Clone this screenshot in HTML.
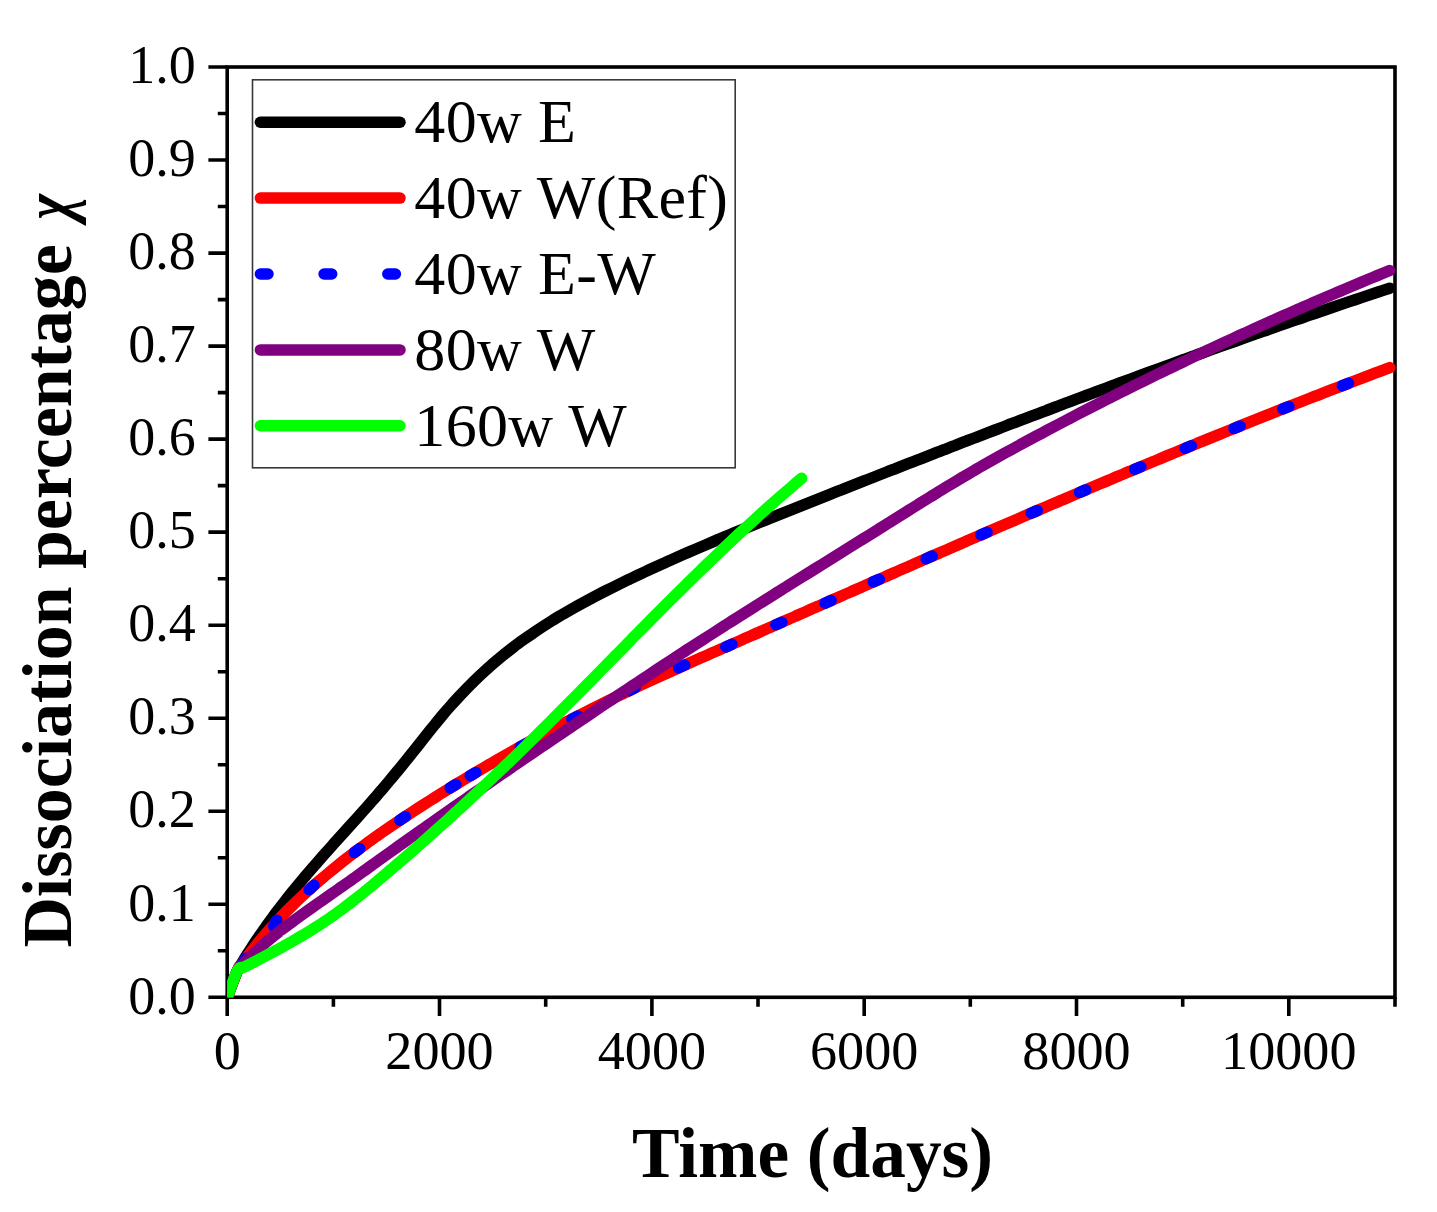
<!DOCTYPE html>
<html><head><meta charset="utf-8"><title>Dissociation percentage</title>
<style>
html,body{margin:0;padding:0;background:#fff;}
body{width:1437px;height:1212px;overflow:hidden;}
svg{display:block;}
text{font-family:"Liberation Serif",serif;fill:#000;}
.tk{font-size:54.2px;}
.lg{font-size:62px;letter-spacing:0.35px;}
.ax{font-size:71.3px;font-weight:bold;}
</style></head><body>
<svg width="1437" height="1212" viewBox="0 0 1437 1212">
<rect x="0" y="0" width="1437" height="1212" fill="#fff"/>
<defs><clipPath id="cp"><rect x="227.1" y="67" width="1187.9" height="930.6"/></clipPath></defs>
<g stroke="#000" stroke-width="3.6" fill="none" stroke-linecap="butt">
<rect x="227.2" y="67" width="1167.8" height="930.3"/>
<path d="M227.2 997.3 H208.4M227.2 950.8 H217.8M227.2 904.3 H208.4M227.2 857.8 H217.8M227.2 811.2 H208.4M227.2 764.7 H217.8M227.2 718.2 H208.4M227.2 671.7 H217.8M227.2 625.2 H208.4M227.2 578.7 H217.8M227.2 532.1 H208.4M227.2 485.6 H217.8M227.2 439.1 H208.4M227.2 392.6 H217.8M227.2 346.1 H208.4M227.2 299.6 H217.8M227.2 253.1 H208.4M227.2 206.5 H217.8M227.2 160 H208.4M227.2 113.5 H217.8M227.2 67 H208.4M227.2 997.3 V1016.1M333.4 997.3 V1006.7M439.5 997.3 V1016.1M545.7 997.3 V1006.7M651.9 997.3 V1016.1M758 997.3 V1006.7M864.2 997.3 V1016.1M970.3 997.3 V1006.7M1076.5 997.3 V1016.1M1182.7 997.3 V1006.7M1288.8 997.3 V1016.1M1395 997.3 V1006.7"/>
</g>
<g clip-path="url(#cp)" fill="none" stroke-linecap="round" stroke-linejoin="round" stroke-width="11.5">
<path d="M227.2 997.3C228.9 992.8 235.2 975.8 237.5 970.4C239.8 965 239.9 966.4 240.9 964.6C242 962.9 243.2 960.9 243.8 959.9C244.4 959 243.7 960.1 244.4 958.9C245.1 957.8 247 954.8 248 953.3C248.9 951.7 249.7 950.6 250.3 949.6C250.9 948.7 250.7 948.9 251.6 947.7C252.4 946.4 254.3 943.5 255.2 942.1C256.1 940.7 256.4 940.4 257 939.5C257.6 938.6 258 938 259 936.6C259.9 935.2 261.9 932.3 262.8 931.1C263.6 929.9 263.3 930.4 263.9 929.5C264.6 928.6 265.5 927.2 266.6 925.7C267.7 924.2 269.8 921.3 270.5 920.3C271.2 919.3 269.7 921.3 271 919.6C272.3 917.9 275.8 913.1 278.3 909.9C280.7 906.6 283.2 903.4 285.7 900.3C288.2 897.1 290.7 893.9 293.3 890.8C295.8 887.6 298.4 884.5 301 881.4C303.6 878.3 306.2 875.2 308.8 872.1C311.5 869 314.1 866 316.8 862.9C319.5 859.9 322.2 856.8 324.8 853.8C327.5 850.8 330.2 847.8 332.9 844.7C335.7 841.7 338.4 838.7 341.1 835.7C343.8 832.7 346.5 829.6 349.2 826.6C351.9 823.6 354.7 820.6 357.4 817.6C360.1 814.6 362.8 811.5 365.5 808.5C368.2 805.5 370.8 802.4 373.5 799.4C376.2 796.3 378.8 793.2 381.5 790.2C384.1 787.1 386.7 784 389.3 780.9C391.9 777.8 394.5 774.7 397.1 771.5C399.7 768.4 402.3 765.3 404.8 762.1C407.4 759 409.9 755.8 412.4 752.6C415 749.5 417.5 746.3 420 743.1C422.5 739.9 425 736.7 427.5 733.6C430.1 730.4 432.6 727.2 435.2 724.1C437.7 720.9 440.3 717.8 442.9 714.7C445.5 711.6 448.2 708.5 450.9 705.5C453.6 702.5 456.3 699.5 459.1 696.5C461.9 693.5 464.7 690.6 467.5 687.7C470.4 684.8 473.3 681.9 476.2 679.1C479.1 676.3 482.1 673.5 485.1 670.8C488.1 668.1 491.1 665.4 494.2 662.7C497.3 660.1 500.4 657.5 503.5 654.9C506.7 652.4 509.9 649.9 513.1 647.4C516.3 645 519.5 642.6 522.8 640.2C526.1 637.8 529.4 635.5 532.8 633.3C536.1 631 539.5 628.7 542.9 626.5C546.3 624.3 549.7 622.2 553.1 620C556.6 617.9 560.1 615.8 563.6 613.8C567 611.7 570.6 609.7 574.1 607.7C577.6 605.7 581.2 603.7 584.8 601.8C588.3 599.9 591.9 598 595.5 596.1C599.1 594.2 602.8 592.3 606.4 590.5C610 588.7 613.7 586.9 617.3 585.1C621 583.3 624.6 581.5 628.3 579.7C632 578 635.6 576.2 639.3 574.5C643 572.8 646.7 571 650.4 569.3C654.1 567.6 657.8 566 661.5 564.3C665.2 562.6 668.9 560.9 672.6 559.3C676.3 557.6 680 556 683.7 554.3C687.4 552.7 691.2 551.1 694.9 549.5C698.6 547.9 702.3 546.3 706.1 544.7C709.8 543.1 713.5 541.5 717.3 539.9C721 538.4 724.7 536.8 728.5 535.2C732.2 533.7 736 532.1 739.7 530.6C743.5 529 747.2 527.5 751 525.9C754.7 524.4 758.5 522.9 762.2 521.4C766 519.8 769.8 518.3 773.5 516.8C777.3 515.3 781.1 513.8 784.8 512.3C788.6 510.8 792.3 509.3 796.1 507.8C799.9 506.3 803.6 504.8 807.4 503.3C811.2 501.8 815 500.3 818.7 498.8C822.5 497.3 826.3 495.8 830 494.3C833.8 492.8 837.6 491.3 841.4 489.9C845.1 488.4 848.9 486.9 852.7 485.4C856.4 483.9 860.2 482.4 864 480.9C867.8 479.5 871.5 478 875.3 476.5C879.1 475 882.9 473.5 886.7 472C890.4 470.6 894.2 469.1 898 467.6C901.8 466.1 905.5 464.7 909.3 463.2C913.1 461.7 916.9 460.2 920.7 458.8C924.4 457.3 928.2 455.8 932 454.3C935.8 452.9 939.6 451.4 943.4 449.9C947.1 448.5 950.9 447 954.7 445.6C958.5 444.1 962.3 442.6 966.1 441.2C969.9 439.7 973.6 438.2 977.4 436.8C981.2 435.3 985 433.9 988.8 432.4C992.6 431 996.4 429.5 1000.2 428.1C1004 426.6 1007.8 425.2 1011.5 423.7C1015.3 422.3 1019.1 420.8 1022.9 419.4C1026.7 417.9 1030.5 416.5 1034.3 415.1C1038.1 413.6 1041.9 412.2 1045.7 410.8C1049.5 409.3 1053.3 407.9 1057.1 406.5C1060.9 405 1064.7 403.6 1068.5 402.2C1072.3 400.7 1076.1 399.3 1079.9 397.9C1083.7 396.5 1087.5 395 1091.3 393.6C1095.1 392.2 1098.9 390.8 1102.7 389.4C1106.5 388 1110.3 386.6 1114.1 385.1C1117.9 383.7 1121.7 382.3 1125.5 380.9C1129.3 379.5 1133.2 378.1 1137 376.7C1140.8 375.3 1144.6 373.9 1148.4 372.5C1152.2 371.1 1156 369.7 1159.8 368.3C1163.6 366.9 1167.5 365.5 1171.3 364.2C1175.1 362.8 1178.9 361.4 1182.7 360C1186.5 358.6 1190.4 357.3 1194.2 355.9C1198 354.5 1201.8 353.1 1205.6 351.8C1209.4 350.4 1213.3 349 1217.1 347.6C1220.9 346.3 1224.7 344.9 1228.6 343.6C1232.4 342.2 1236.2 340.8 1240 339.5C1243.9 338.1 1247.7 336.8 1251.5 335.4C1255.3 334.1 1259.2 332.7 1263 331.4C1266.8 330.1 1270.6 328.7 1274.5 327.4C1278.3 326 1282.1 324.7 1286 323.4C1289.8 322 1293.6 320.7 1297.5 319.4C1301.3 318.1 1305.1 316.7 1309 315.4C1312.8 314.1 1316.7 312.8 1320.5 311.5C1324.3 310.2 1328.2 308.8 1332 307.5C1335.9 306.2 1339.7 304.9 1343.5 303.6C1347.4 302.3 1351.2 301 1355.1 299.7C1358.9 298.5 1362.8 297.2 1366.6 295.9C1370.5 294.6 1374.3 293.3 1378.1 292C1382 290.7 1387.8 288.8 1389.7 288.2" stroke="#000"/>
<path d="M227.2 997.3C228.9 992.8 235.1 975.8 237.5 970.4C239.9 965 240.2 966.5 241.4 964.9C242.5 963.2 243.9 961.3 244.6 960.4C245.3 959.5 244.5 960.5 245.3 959.4C246.1 958.4 248.2 955.5 249.3 954C250.4 952.6 251.3 951.5 252 950.6C252.7 949.7 252.5 949.9 253.4 948.8C254.4 947.6 256.6 944.8 257.6 943.5C258.6 942.3 258.9 942 259.6 941.1C260.3 940.3 260.8 939.7 261.8 938.4C262.9 937.1 265.2 934.4 266.2 933.3C267.1 932.2 266.7 932.7 267.5 931.9C268.2 931 269.3 929.7 270.6 928.3C271.8 926.9 274.2 924.3 275 923.4C275.9 922.5 274.1 924.4 275.6 922.8C277 921.3 281.1 916.9 283.9 914C286.7 911.1 289.5 908.3 292.4 905.5C295.3 902.6 298.2 899.8 301.1 897.1C304.1 894.3 307 891.6 310 888.9C313 886.2 316.1 883.5 319.1 880.9C322.2 878.3 325.2 875.7 328.4 873.1C331.5 870.5 334.6 867.9 337.7 865.4C340.9 862.9 344.1 860.4 347.3 857.9C350.5 855.4 353.7 853 356.9 850.6C360.2 848.1 363.4 845.7 366.7 843.3C370 841 373.3 838.6 376.6 836.2C379.9 833.9 383.2 831.6 386.6 829.3C389.9 827 393.3 824.7 396.6 822.4C400 820.1 403.4 817.9 406.8 815.6C410.2 813.4 413.6 811.1 417 808.9C420.4 806.7 423.8 804.5 427.2 802.3C430.6 800.1 434.1 798 437.5 795.8C440.9 793.6 444.4 791.5 447.9 789.4C451.3 787.2 454.8 785.1 458.2 783C461.7 780.9 465.2 778.8 468.7 776.7C472.2 774.6 475.6 772.5 479.1 770.5C482.6 768.4 486.1 766.4 489.6 764.3C493.1 762.3 496.7 760.3 500.2 758.2C503.7 756.2 507.2 754.2 510.7 752.2C514.3 750.2 517.8 748.2 521.3 746.3C524.9 744.3 528.4 742.3 532 740.4C535.5 738.5 539.1 736.5 542.6 734.6C546.2 732.7 549.8 730.8 553.4 728.9C556.9 727 560.5 725.1 564.1 723.2C567.7 721.3 571.3 719.4 574.9 717.6C578.5 715.7 582.1 713.9 585.7 712C589.3 710.2 592.9 708.4 596.5 706.6C600.1 704.8 603.8 703 607.4 701.2C611 699.4 614.7 697.6 618.3 695.9C621.9 694.1 625.6 692.4 629.2 690.6C632.9 688.9 636.6 687.1 640.2 685.4C643.9 683.7 647.6 682 651.2 680.3C654.9 678.6 658.6 676.9 662.3 675.2C666 673.6 669.6 671.9 673.3 670.2C677 668.6 680.7 666.9 684.4 665.2C688.1 663.6 691.8 661.9 695.5 660.3C699.2 658.7 702.9 657 706.6 655.4C710.3 653.7 714 652.1 717.7 650.5C721.4 648.8 725.2 647.2 728.9 645.6C732.6 643.9 736.3 642.3 740 640.7C743.7 639 747.4 637.4 751.1 635.8C754.8 634.1 758.5 632.5 762.2 630.9C765.9 629.2 769.6 627.6 773.3 626C777.1 624.3 780.8 622.7 784.5 621C788.2 619.4 791.9 617.8 795.6 616.1C799.3 614.5 803 612.9 806.7 611.2C810.4 609.6 814.1 608 817.8 606.3C821.5 604.7 825.3 603.1 829 601.4C832.7 599.8 836.4 598.2 840.1 596.5C843.8 594.9 847.5 593.3 851.2 591.6C854.9 590 858.6 588.4 862.3 586.7C866.1 585.1 869.8 583.5 873.5 581.8C877.2 580.2 880.9 578.6 884.6 577C888.3 575.3 892 573.7 895.7 572.1C899.4 570.4 903.2 568.8 906.9 567.2C910.6 565.6 914.3 563.9 918 562.3C921.7 560.7 925.4 559.1 929.1 557.4C932.9 555.8 936.6 554.2 940.3 552.6C944 551 947.7 549.3 951.4 547.7C955.2 546.1 958.9 544.5 962.6 542.9C966.3 541.2 970 539.6 973.7 538C977.5 536.4 981.2 534.8 984.9 533.2C988.6 531.6 992.3 530 996 528.3C999.8 526.7 1003.5 525.1 1007.2 523.5C1010.9 521.9 1014.6 520.3 1018.4 518.7C1022.1 517.1 1025.8 515.5 1029.5 513.9C1033.3 512.3 1037 510.7 1040.7 509.1C1044.4 507.5 1048.2 505.9 1051.9 504.3C1055.6 502.7 1059.3 501.1 1063.1 499.6C1066.8 498 1070.5 496.4 1074.3 494.8C1078 493.2 1081.7 491.6 1085.4 490C1089.2 488.5 1092.9 486.9 1096.6 485.3C1100.4 483.7 1104.1 482.2 1107.8 480.6C1111.6 479 1115.3 477.4 1119 475.9C1122.8 474.3 1126.5 472.7 1130.2 471.2C1134 469.6 1137.7 468 1141.5 466.5C1145.2 464.9 1148.9 463.4 1152.7 461.8C1156.4 460.2 1160.2 458.7 1163.9 457.1C1167.7 455.6 1171.4 454 1175.1 452.5C1178.9 450.9 1182.6 449.4 1186.4 447.9C1190.1 446.3 1193.9 444.8 1197.6 443.2C1201.4 441.7 1205.1 440.2 1208.9 438.6C1212.6 437.1 1216.4 435.6 1220.1 434.1C1223.9 432.5 1227.6 431 1231.4 429.5C1235.2 428 1238.9 426.5 1242.7 424.9C1246.4 423.4 1250.2 421.9 1253.9 420.4C1257.7 418.9 1261.5 417.4 1265.2 415.9C1269 414.4 1272.8 412.9 1276.5 411.4C1280.3 409.9 1284.1 408.4 1287.8 406.9C1291.6 405.4 1295.4 404 1299.1 402.5C1302.9 401 1306.7 399.5 1310.5 398C1314.2 396.6 1318 395.1 1321.8 393.6C1325.6 392.2 1329.3 390.7 1333.1 389.2C1336.9 387.8 1340.7 386.3 1344.4 384.9C1348.2 383.4 1352 382 1355.8 380.5C1359.6 379.1 1363.4 377.6 1367.2 376.2C1370.9 374.7 1374.7 373.3 1378.5 371.9C1382.3 370.4 1388 368.3 1389.9 367.6" stroke="#f00"/>
<path d="M242.3 963.6 L246.2 958.2M273.8 926.1 L276.7 920.2M309.1 889.7 L314 885.3M354.3 852.5 L359.6 848.6M399.8 820.3 L405.3 816.6M450.2 787.9 L455.9 784.4M470.2 775.8 L475.9 772.4M520.2 746.9 L526 743.7M571.9 719.1 L577.8 716.1M629 690.7 L635 687.9M678.6 667.8 L684.7 665.1M725.8 646.9 L731.9 644.2M775.9 624.8 L781.9 622.2M825 603.2 L831.1 600.5M873.2 581.9 L879.3 579.3M926.1 558.8 L932.2 556.1M980.9 534.9 L987 532.3M1031.2 513.2 L1037.2 510.6M1079.6 492.5 L1085.7 489.9M1134.7 469.3 L1140.8 466.8M1185.2 448.3 L1191.3 445.8M1234 428.5 L1240.1 426M1282.9 408.9 L1289 406.5M1342.3 385.7 L1348.5 383.3" stroke="#00f"/>
<path d="M227.2 997.3C228.9 992.8 235 975.7 237.5 970.4C240 965.1 240.6 966.9 242 965.4C243.3 963.9 245 962.1 245.8 961.3C246.5 960.5 245.6 961.4 246.6 960.5C247.5 959.6 250 957.1 251.3 955.8C252.6 954.5 253.6 953.5 254.4 952.7C255.2 952 255 952.2 256.1 951.2C257.2 950.2 259.8 947.8 261 946.7C262.2 945.6 262.6 945.3 263.4 944.6C264.3 943.9 264.7 943.4 266 942.3C267.3 941.3 270 939 271.1 938.1C272.2 937.2 271.9 937.5 272.7 936.8C273.6 936.1 274.8 935.1 276.3 933.9C277.7 932.8 280.5 930.6 281.5 929.8C282.5 929 280.5 930.6 282.3 929.2C284 927.9 288.7 924.4 292 922C295.3 919.5 298.5 917.2 301.8 914.8C305.1 912.5 308.5 910.1 311.8 907.8C315.1 905.4 318.4 903.1 321.8 900.8C325.1 898.5 328.4 896.1 331.7 893.8C335.1 891.5 338.4 889.1 341.7 886.8C345 884.4 348.3 882.1 351.7 879.7C355 877.4 358.3 875 361.6 872.6C364.9 870.3 368.2 867.9 371.5 865.5C374.8 863.2 378.1 860.8 381.4 858.4C384.7 856.1 388 853.7 391.3 851.4C394.6 849 397.9 846.6 401.2 844.3C404.5 841.9 407.8 839.6 411.1 837.2C414.5 834.9 417.8 832.6 421.1 830.2C424.4 827.9 427.7 825.5 431.1 823.2C434.4 820.9 437.7 818.5 441 816.2C444.4 813.9 447.7 811.6 451 809.2C454.4 806.9 457.7 804.6 461 802.3C464.4 800 467.7 797.6 471 795.3C474.4 793 477.7 790.7 481.1 788.4C484.4 786.1 487.8 783.8 491.1 781.5C494.4 779.2 497.8 776.9 501.1 774.6C504.5 772.3 507.8 770 511.2 767.7C514.5 765.4 517.9 763.1 521.3 760.8C524.6 758.5 528 756.2 531.3 753.9C534.7 751.6 538 749.4 541.4 747.1C544.8 744.8 548.1 742.5 551.5 740.2C554.8 737.9 558.2 735.7 561.6 733.4C564.9 731.1 568.3 728.8 571.7 726.6C575 724.3 578.4 722 581.8 719.7C585.2 717.5 588.5 715.2 591.9 712.9C595.3 710.7 598.6 708.4 602 706.1C605.4 703.9 608.8 701.6 612.1 699.4C615.5 697.1 618.9 694.8 622.3 692.6C625.7 690.3 629 688.1 632.4 685.8C635.8 683.6 639.2 681.3 642.6 679.1C646 676.9 649.4 674.6 652.8 672.4C656.2 670.1 659.5 667.9 662.9 665.7C666.3 663.5 669.7 661.2 673.1 659C676.5 656.8 679.9 654.6 683.3 652.3C686.8 650.1 690.2 647.9 693.6 645.7C697 643.5 700.4 641.3 703.8 639.1C707.2 636.9 710.6 634.7 714.1 632.5C717.5 630.3 720.9 628.1 724.3 625.9C727.7 623.7 731.2 621.6 734.6 619.4C738 617.2 741.5 615 744.9 612.8C748.3 610.7 751.8 608.5 755.2 606.3C758.6 604.2 762.1 602 765.5 599.8C768.9 597.7 772.4 595.5 775.8 593.3C779.3 591.2 782.7 589 786.2 586.9C789.6 584.7 793 582.6 796.5 580.4C799.9 578.3 803.4 576.1 806.8 574C810.3 571.8 813.7 569.7 817.2 567.5C820.6 565.4 824.1 563.2 827.5 561.1C831 558.9 834.4 556.8 837.9 554.6C841.3 552.5 844.8 550.3 848.2 548.2C851.7 546 855.1 543.9 858.6 541.7C862 539.6 865.5 537.4 868.9 535.3C872.4 533.1 875.8 531 879.2 528.8C882.7 526.7 886.1 524.5 889.6 522.4C893 520.2 896.5 518 899.9 515.9C903.4 513.7 906.8 511.6 910.2 509.4C913.7 507.3 917.1 505.1 920.6 502.9C924 500.8 927.5 498.7 930.9 496.5C934.4 494.4 937.8 492.2 941.3 490.1C944.8 488 948.2 485.9 951.7 483.8C955.2 481.7 958.7 479.6 962.2 477.5C965.7 475.5 969.2 473.4 972.7 471.4C976.2 469.3 979.7 467.3 983.2 465.3C986.8 463.3 990.3 461.3 993.8 459.3C997.4 457.3 1000.9 455.3 1004.5 453.3C1008 451.4 1011.6 449.4 1015.2 447.5C1018.7 445.5 1022.3 443.6 1025.9 441.7C1029.5 439.7 1033 437.8 1036.6 435.9C1040.2 434 1043.8 432.1 1047.4 430.2C1051 428.3 1054.6 426.4 1058.2 424.5C1061.8 422.6 1065.4 420.7 1069 418.8C1072.6 416.9 1076.2 415.1 1079.8 413.2C1083.4 411.3 1087 409.5 1090.6 407.6C1094.2 405.8 1097.9 403.9 1101.5 402.1C1105.1 400.2 1108.7 398.4 1112.4 396.6C1116 394.8 1119.6 392.9 1123.3 391.1C1126.9 389.3 1130.5 387.5 1134.2 385.7C1137.8 383.9 1141.4 382.1 1145.1 380.3C1148.7 378.5 1152.4 376.7 1156 374.9C1159.7 373.2 1163.4 371.4 1167 369.6C1170.7 367.8 1174.3 366.1 1178 364.3C1181.7 362.6 1185.3 360.8 1189 359.1C1192.7 357.3 1196.3 355.6 1200 353.9C1203.7 352.1 1207.4 350.4 1211.1 348.7C1214.7 347 1218.4 345.2 1222.1 343.5C1225.8 341.8 1229.5 340.1 1233.2 338.4C1236.9 336.7 1240.6 335 1244.3 333.4C1248 331.7 1251.7 330 1255.4 328.3C1259.1 326.6 1262.8 325 1266.5 323.3C1270.2 321.6 1273.9 320 1277.6 318.3C1281.3 316.7 1285 315 1288.7 313.4C1292.5 311.8 1296.2 310.1 1299.9 308.5C1303.6 306.9 1307.4 305.3 1311.1 303.6C1314.8 302 1318.5 300.4 1322.3 298.8C1326 297.2 1329.7 295.6 1333.5 294C1337.2 292.4 1341 290.8 1344.7 289.2C1348.4 287.7 1352.2 286.1 1355.9 284.5C1359.7 282.9 1363.4 281.4 1367.2 279.8C1370.9 278.2 1374.7 276.7 1378.4 275.1C1382.2 273.6 1387.8 271.3 1389.7 270.5" stroke="#800080"/>
<path d="M227.2 997.3C228.9 992.8 234.8 975.4 237.5 970.4C240.2 965.4 241.6 968.3 243.4 967.4C245.3 966.4 247.5 965.3 248.5 964.8C249.5 964.3 248.2 964.9 249.4 964.3C250.5 963.8 253.6 962.2 255.3 961.3C257 960.4 258.4 959.7 259.4 959.1C260.4 958.6 259.9 958.9 261.2 958.2C262.5 957.5 265.6 955.9 267.1 955.1C268.7 954.3 269.4 953.9 270.4 953.4C271.4 952.9 271.6 952.8 273 952C274.5 951.2 277.6 949.6 278.9 948.8C280.3 948.1 280.3 948.1 281.2 947.6C282.2 947 283.2 946.5 284.8 945.6C286.3 944.7 289.4 943 290.6 942.3C291.8 941.7 290 942.7 292 941.5C294 940.4 299.2 937.4 302.7 935.3C306.2 933.2 309.7 931.1 313.2 928.9C316.7 926.7 320.1 924.5 323.5 922.2C327 920 330.3 917.6 333.7 915.3C337 912.9 340.3 910.5 343.6 908C346.9 905.6 350.2 903.1 353.4 900.5C356.6 898 359.9 895.5 363.1 892.9C366.2 890.3 369.4 887.7 372.6 885.1C375.7 882.5 378.9 879.8 382 877.2C385.2 874.5 388.3 871.9 391.4 869.2C394.6 866.5 397.7 863.9 400.8 861.2C403.9 858.5 407 855.8 410.1 853.1C413.2 850.4 416.3 847.7 419.4 845C422.5 842.3 425.5 839.6 428.6 836.8C431.7 834.1 434.7 831.4 437.8 828.6C440.8 825.9 443.9 823.1 446.9 820.4C450 817.6 453 814.8 456 812C459.1 809.3 462.1 806.5 465.1 803.7C468.1 800.9 471.1 798.1 474.1 795.3C477.1 792.5 480.1 789.7 483.1 786.9C486.1 784.1 489.1 781.2 492.1 778.4C495 775.6 498 772.7 501 769.9C504 767.1 506.9 764.2 509.9 761.3C512.8 758.5 515.8 755.6 518.7 752.8C521.7 749.9 524.6 747 527.5 744.2C530.5 741.3 533.4 738.4 536.3 735.5C539.2 732.6 542.2 729.7 545.1 726.8C548 723.9 550.9 721 553.8 718.1C556.7 715.2 559.6 712.3 562.5 709.4C565.4 706.5 568.3 703.6 571.2 700.6C574.1 697.7 577 694.8 579.9 691.9C582.7 688.9 585.6 686 588.5 683.1C591.4 680.2 594.3 677.2 597.2 674.3C600 671.4 602.9 668.4 605.8 665.5C608.7 662.6 611.6 659.6 614.4 656.7C617.3 653.8 620.2 650.9 623.1 647.9C626 645 628.8 642.1 631.7 639.1C634.6 636.2 637.5 633.3 640.4 630.4C643.3 627.4 646.2 624.5 649.1 621.6C651.9 618.7 654.8 615.8 657.7 612.9C660.6 610 663.5 607 666.4 604.1C669.3 601.2 672.3 598.3 675.2 595.4C678.1 592.5 681 589.7 683.9 586.8C686.8 583.9 689.8 581 692.7 578.1C695.6 575.3 698.6 572.4 701.5 569.5C704.5 566.7 707.4 563.8 710.4 561C713.3 558.1 716.3 555.3 719.3 552.4C722.2 549.6 725.2 546.8 728.2 544C731.2 541.2 734.2 538.3 737.2 535.5C740.2 532.7 743.2 530 746.2 527.2C749.2 524.4 752.3 521.6 755.3 518.9C758.3 516.1 761.4 513.3 764.5 510.6C767.5 507.9 770.6 505.1 773.7 502.4C776.7 499.7 779.8 497 782.9 494.3C786 491.6 789.2 488.9 792.3 486.3C795.4 483.6 800.1 479.6 801.7 478.3" stroke="#0f0"/>
</g>
<text class="tk" style="font-size:54px" x="195.7" y="1013.5" text-anchor="end">0.0</text>
<text class="tk" style="font-size:54px" x="195.7" y="920.5" text-anchor="end">0.1</text>
<text class="tk" style="font-size:54px" x="195.7" y="827.4" text-anchor="end">0.2</text>
<text class="tk" style="font-size:54px" x="195.7" y="734.4" text-anchor="end">0.3</text>
<text class="tk" style="font-size:54px" x="195.7" y="641.4" text-anchor="end">0.4</text>
<text class="tk" style="font-size:54px" x="195.7" y="548.4" text-anchor="end">0.5</text>
<text class="tk" style="font-size:54px" x="195.7" y="455.3" text-anchor="end">0.6</text>
<text class="tk" style="font-size:54px" x="195.7" y="362.3" text-anchor="end">0.7</text>
<text class="tk" style="font-size:54px" x="195.7" y="269.3" text-anchor="end">0.8</text>
<text class="tk" style="font-size:54px" x="195.7" y="176.2" text-anchor="end">0.9</text>
<text class="tk" style="font-size:54px" x="195.7" y="83.2" text-anchor="end">1.0</text>
<text class="tk" x="227.2" y="1069.4" text-anchor="middle">0</text>
<text class="tk" x="439.5" y="1069.4" text-anchor="middle">2000</text>
<text class="tk" x="651.9" y="1069.4" text-anchor="middle">4000</text>
<text class="tk" x="864.2" y="1069.4" text-anchor="middle">6000</text>
<text class="tk" x="1076.5" y="1069.4" text-anchor="middle">8000</text>
<text class="tk" x="1288.8" y="1069.4" text-anchor="middle">10000</text>
<text class="ax" x="812.5" y="1177.4" text-anchor="middle">Time (days)</text>
<text class="ax" style="font-size:69.9px" transform="translate(71.1 947.6) rotate(-90)">Dissociation percentage</text>
<text class="ax" style="font-size:69.9px;font-style:italic" transform="translate(71.1 219.6) rotate(-90) scale(0.78 1)">χ</text>
<rect x="252.5" y="79.8" width="482.7" height="388" fill="#fff" stroke="#383838" stroke-width="1.6"/>
<g fill="none" stroke-linecap="round" stroke-width="11.5">
<path d="M260.4 122.2 H400" stroke="#000"/>
<path d="M260.4 198.1 H400" stroke="#f00"/>
<path d="M260.4 274 h7.6M324.1 274 h7.6M387.8 274 h7.6" stroke="#00f"/>
<path d="M260.4 349.9 H400" stroke="#800080"/>
<path d="M260.4 425.8 H400" stroke="#0f0"/>
</g>
<text class="lg" x="414.3" y="142.2">40w E</text>
<text class="lg" x="414.3" y="218.1">40w W(Ref)</text>
<text class="lg" x="414.3" y="294">40w E-W</text>
<text class="lg" x="414.3" y="369.9">80w W</text>
<text class="lg" x="414.3" y="445.8">160w W</text>
</svg></body></html>
